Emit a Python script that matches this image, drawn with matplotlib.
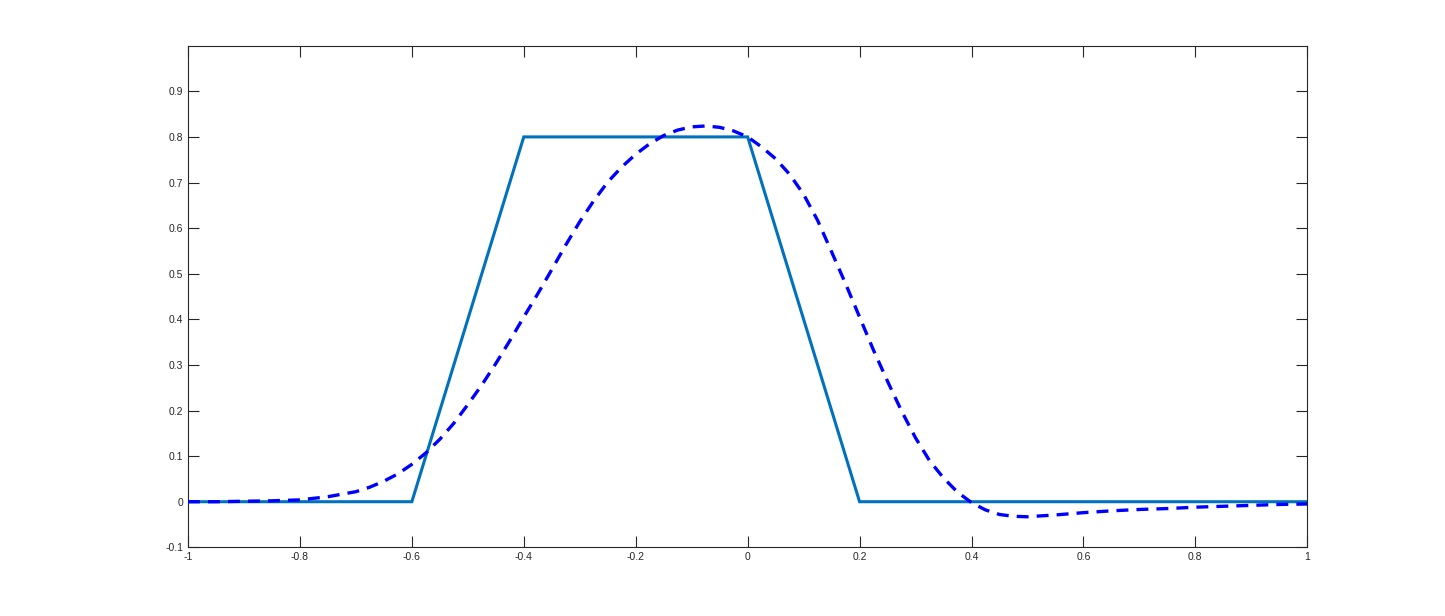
import matplotlib
matplotlib.use("Agg")
import matplotlib.pyplot as plt

# Piecewise-linear (trapezoid) series
trap_x = [-1.0, -0.6, -0.4, 0.0, 0.2, 1.0]
trap_y = [0.0, 0.0, 0.8, 0.8, 0.0, 0.0]

# Smooth approximation (dashed)
smooth_x = [-1.000, -0.950, -0.900, -0.850, -0.800, -0.750, -0.700, -0.675, -0.650, -0.625,
            -0.600, -0.575, -0.550, -0.525, -0.500, -0.475, -0.450, -0.425, -0.400, -0.375,
            -0.350, -0.325, -0.300, -0.275, -0.250, -0.225, -0.200, -0.175, -0.150, -0.125,
            -0.100, -0.075, -0.050, -0.025, 0.000, 0.025, 0.050, 0.075, 0.100, 0.125,
            0.150, 0.175, 0.200, 0.225, 0.250, 0.275, 0.300, 0.325, 0.350, 0.375,
            0.400, 0.425, 0.450, 0.475, 0.500, 0.550, 0.600, 0.650, 0.700, 0.750,
            0.800, 0.850, 0.900, 0.950, 1.000]
smooth_y = [0.000, 0.000, 0.001, 0.002, 0.004, 0.011, 0.022, 0.032, 0.045, 0.061,
            0.082, 0.107, 0.137, 0.172, 0.213, 0.256, 0.303, 0.353, 0.405, 0.456,
            0.509, 0.563, 0.614, 0.660, 0.701, 0.734, 0.762, 0.785, 0.803, 0.815,
            0.822, 0.824, 0.821, 0.813, 0.800, 0.778, 0.752, 0.718, 0.674, 0.617,
            0.548, 0.478, 0.405, 0.332, 0.264, 0.199, 0.140, 0.090, 0.052, 0.021,
            -0.002, -0.018, -0.028, -0.032, -0.033, -0.029, -0.024, -0.020, -0.017, -0.015,
            -0.012, -0.010, -0.008, -0.006, -0.005]

xticks = [-1, -0.8, -0.6, -0.4, -0.2, 0, 0.2, 0.4, 0.6, 0.8, 1]
yticks = [-0.1, 0, 0.1, 0.2, 0.3, 0.4, 0.5, 0.6, 0.7, 0.8, 0.9]

plt.rcParams['axes.unicode_minus'] = False
plt.rcParams['font.family'] = ['Liberation Sans', 'DejaVu Sans']
plt.rcParams['lines.scale_dashes'] = False

fig = plt.figure(figsize=(14.45, 6.16), dpi=100)
ax = fig.add_axes([0.1301, 0.1115, 0.7746, 0.8143])

ax.plot(trap_x, trap_y, color='#0072BD', lw=2.2, solid_joinstyle='miter', zorder=3)
ax.plot(smooth_x, smooth_y, color='#0000FF', lw=2.4, dashes=(8.6, 5.8), zorder=4)

ax.set_xlim(-1, 1)
ax.set_ylim(-0.1, 1.0)
ax.set_xticks(xticks)
ax.set_yticks(yticks)
ax.set_xticklabels(['%g' % t for t in xticks])
ax.set_yticklabels(['%g' % t for t in yticks])

edge = '#262626'
for s in ax.spines.values():
    s.set_color(edge)
    s.set_linewidth(0.8)
ax.tick_params(direction='in', length=7.8, width=0.8, colors=edge, labelcolor=edge,
               labelsize=7.5, top=True, right=True, pad=3.5)

fig.savefig('out.png', dpi=100, facecolor='white')
